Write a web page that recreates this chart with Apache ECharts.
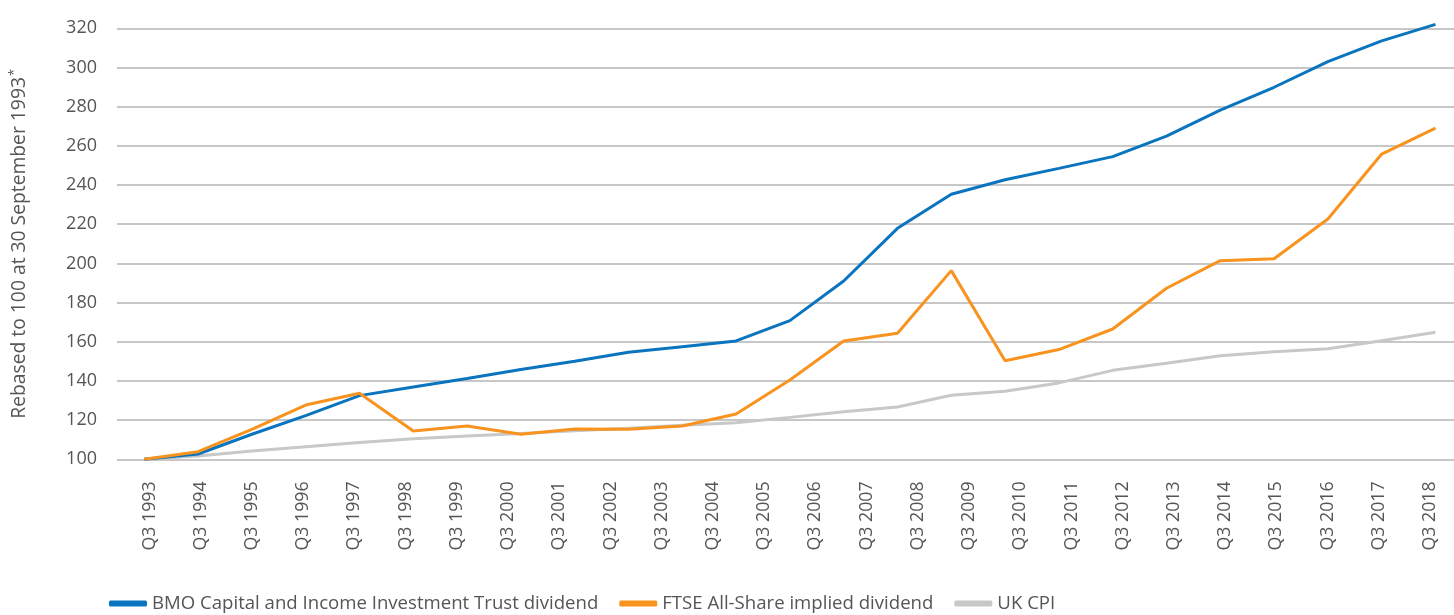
<!DOCTYPE html>
<html>
<head>
<meta charset="utf-8">
<script src="https://cdn.jsdelivr.net/npm/echarts@6/dist/echarts.min.js"></script>
<style>
  html, body { margin: 0; padding: 0; background: #fff; }
  #chart { width: 1454px; height: 615px; }
</style>
</head>
<body>
<div id="chart"></div>
<script>
// tick labels on the category axis (26 of them)
let quarterLabels = [
    'Q3 1993', 'Q3 1994', 'Q3 1995', 'Q3 1996', 'Q3 1997', 'Q3 1998', 'Q3 1999',
    'Q3 2000', 'Q3 2001', 'Q3 2002', 'Q3 2003', 'Q3 2004', 'Q3 2005', 'Q3 2006',
    'Q3 2007', 'Q3 2008', 'Q3 2009', 'Q3 2010', 'Q3 2011', 'Q3 2012', 'Q3 2013',
    'Q3 2014', 'Q3 2015', 'Q3 2016', 'Q3 2017', 'Q3 2018'
];

// the plotted series have 25 evenly spaced points over the same span
let bmoDividend = [100, 102.7, 112.8, 122.3, 132.5, 136.9, 141.2, 145.8, 150.1, 154.6,
    157.5, 160.4, 170.8, 191.0, 217.9, 235.3, 242.7, 248.5, 254.5, 265.0,
    278.2, 289.9, 303.0, 313.6, 322.0];
let ftseDividend = [100, 103.9, 115.3, 127.7, 133.7, 114.4, 117.0, 112.8, 115.5, 115.3,
    117.0, 123.1, 140.5, 160.4, 164.3, 196.3, 150.3, 156.0, 166.5, 187.3,
    201.4, 202.4, 222.7, 255.8, 269.0];
let ukCpi = [100, 101.7, 104.2, 106.4, 108.6, 110.5, 111.9, 113.2, 114.6, 115.8,
    117.4, 118.7, 121.4, 124.3, 126.7, 132.7, 134.7, 139.0, 145.4, 149.0,
    152.9, 154.9, 156.4, 160.5, 164.8];

let seriesNames = [
    'BMO Capital and Income Investment Trust dividend',
    'FTSE All-Share implied dividend',
    'UK CPI'
];

function toPoints(values) {
    return values.map(function (v, i) { return [i, v]; });
}

let textColor = '#555555';
let baseFont = '"Open Sans", "Noto Sans", sans-serif';

let option = {
    animation: false,
    backgroundColor: '#ffffff',
    legend: {
        left: 109,
        top: 594,
        padding: 0,
        itemWidth: 38,
        itemHeight: 6,
        itemGap: 21,
        icon: 'roundRect',
        textStyle: {
            color: textColor,
            fontSize: 18.6,
            fontFamily: baseFont
        },
        data: seriesNames
    },
    grid: [
        {left: 116, top: 28.3, width: 1338, height: 431},
        {left: 149.5, top: 28.3, width: 1280.5, height: 431}
    ],
    xAxis: [
        {
            type: 'value',
            gridIndex: 0,
            min: -0.507,
            max: 24.344,
            show: false
        },
        {
            type: 'category',
            gridIndex: 1,
            boundaryGap: false,
            data: quarterLabels,
            axisLine: {show: false},
            axisTick: {show: false},
            axisLabel: {
                rotate: 90,
                margin: 22,
                interval: 0,
                color: textColor,
                fontSize: 17.8,
                fontFamily: baseFont
            }
        }
    ],
    yAxis: [
        {
            type: 'value',
            gridIndex: 0,
            min: 100,
            max: 320,
            interval: 20,
            axisLine: {show: false},
            axisTick: {show: false},
            axisLabel: {
                margin: 20,
                color: textColor,
                fontSize: 18,
                fontFamily: baseFont
            },
            splitLine: {lineStyle: {color: '#b4b4b4', width: 1.5}},
            name: '{a|Rebased to 100 at 30 September 1993}{b|*}',
            nameLocation: 'middle',
            nameGap: 86,
            nameTextStyle: {
                rich: {
                    a: {color: textColor, fontSize: 19.3, fontFamily: baseFont},
                    b: {color: textColor, fontSize: 13, fontFamily: baseFont, padding: [0, 0, 10, 1]}
                }
            }
        },
        {
            type: 'value',
            gridIndex: 1,
            min: 100,
            max: 320,
            show: false
        }
    ],
    series: [
        {
            name: seriesNames[0],
            type: 'line',
            xAxisIndex: 0,
            yAxisIndex: 0,
            data: toPoints(bmoDividend),
            symbol: 'none',
            clip: false,
            z: 3,
            color: '#0a74bf',
            lineStyle: {width: 3, color: '#0a74bf'}
        },
        {
            name: seriesNames[1],
            type: 'line',
            xAxisIndex: 0,
            yAxisIndex: 0,
            data: toPoints(ftseDividend),
            symbol: 'none',
            clip: false,
            z: 4,
            color: '#f7931e',
            lineStyle: {width: 3, color: '#f7931e'}
        },
        {
            name: seriesNames[2],
            type: 'line',
            xAxisIndex: 0,
            yAxisIndex: 0,
            data: toPoints(ukCpi),
            symbol: 'none',
            clip: false,
            z: 2,
            color: '#c8c8c8',
            lineStyle: {width: 3, color: '#c8c8c8'}
        }
    ]
};

let myChart = echarts.init(document.getElementById('chart'));
myChart.setOption(option);
</script>
</body>
</html>
